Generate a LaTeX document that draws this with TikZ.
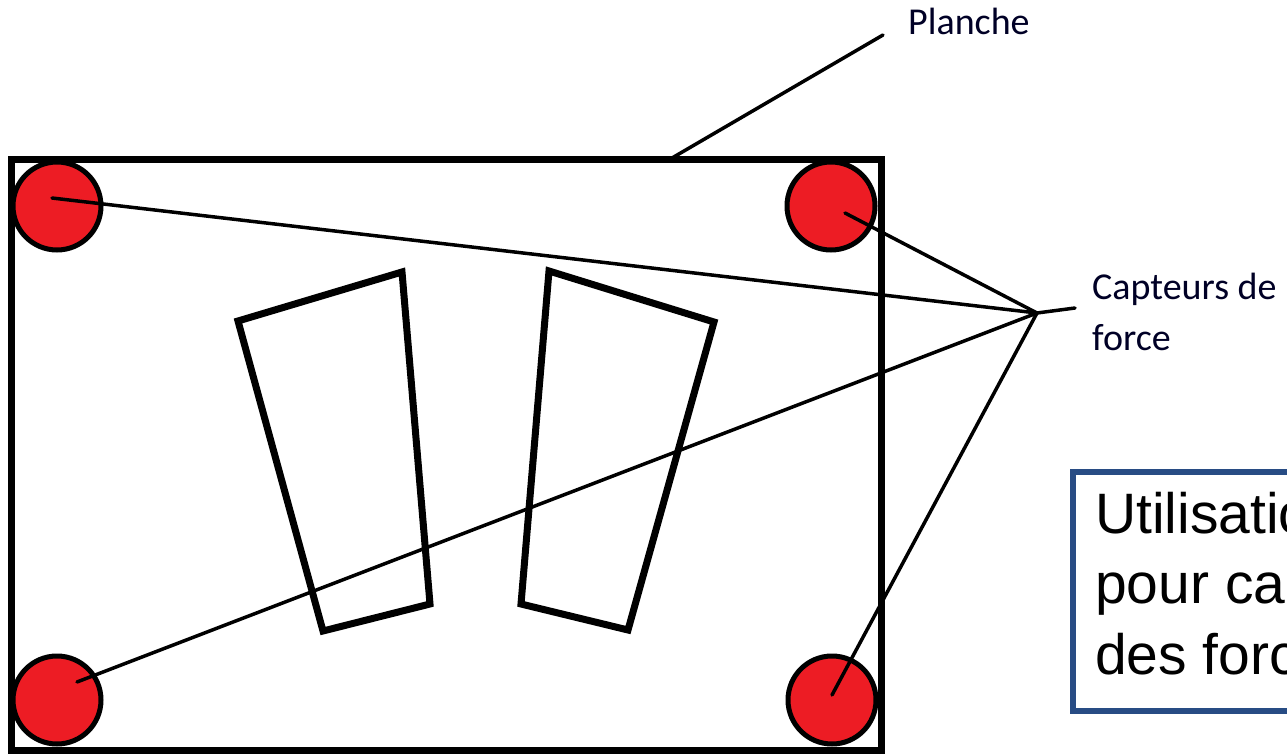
\documentclass[tikz,border=0pt]{standalone}
\usepackage{fontspec}
\setmainfont{Carlito}
\newfontfamily\boxfont{Liberation Sans}
\definecolor{sensorred}{RGB}{237,28,36}
\definecolor{notebl}{RGB}{40,76,132}
\tikzset{
  sensor/.style={circle, draw=black, fill=sensorred, line width=5pt, minimum size=88pt, inner sep=0pt},
  boardbox/.style={draw=black, line width=7pt, inner sep=0pt, minimum width=870pt, minimum height=590pt},
  foot/.style={draw=black, line width=7pt, line join=miter},
  leader/.style={draw=black, line width=3.5pt, line cap=round},
  label/.style={font=\fontsize{38pt}{51pt}\selectfont, text=black!85!blue, inner sep=0pt, align=left},
  notebox/.style={draw=notebl, line width=5.5pt},
  notetext/.style={font=\boxfont\fontsize{57pt}{70.5pt}\selectfont, inner sep=0pt, align=left}
}
\begin{document}
\begin{tikzpicture}[x=1pt, y=-1pt]
\useasboundingbox (0,0) rectangle (1287,754);
\clip (0,0) rectangle (1287,754);
\fill[white] (0,0) rectangle (1287,754);

% force sensors at the four corners
\node[sensor] (c1) at (57,206) {};
\node[sensor] (c2) at (831,206) {};
\node[sensor] (c3) at (57,700) {};
\node[sensor] (c4) at (832,700) {};

% the board
\node[boardbox] (board) at (446,455) {};

% footprints
\draw[foot] (238,321) -- (402,272) -- (430,604) -- (323,631) -- cycle;
\draw[foot] (549,271) -- (714,322) -- (628,630) -- (521,604) -- cycle;

% label anchors
\coordinate (j) at (1037,313);
\coordinate (jt) at (1075,308);
\coordinate (s1) at (52,198);
\coordinate (s2) at (845,213);
\coordinate (s3) at (77,682);
\coordinate (s4) at (832,695);
\coordinate (bt) at (672,158);
\coordinate (pt) at (883,35);

% leader lines
\draw[leader] (s1) -- (j);
\draw[leader] (s2) -- (j);
\draw[leader] (s3) -- (j);
\draw[leader] (s4) -- (j);
\draw[leader] (j) -- (jt);
\draw[leader] (bt) -- (pt);

% labels (base anchor sits on the last line)
\node[label, anchor=base west] (planche) at (908,35) {Planche};
\node[label, anchor=base west] (capteurs) at (1092,350) {Capteurs de\\force};

% note box
\draw[notebox] (1073,472) rectangle (1320,711);
\node[notetext, anchor=base west] (note) at (1095,674) {Utilisation\\pour calculer\\des forces};
\end{tikzpicture}
\end{document}
